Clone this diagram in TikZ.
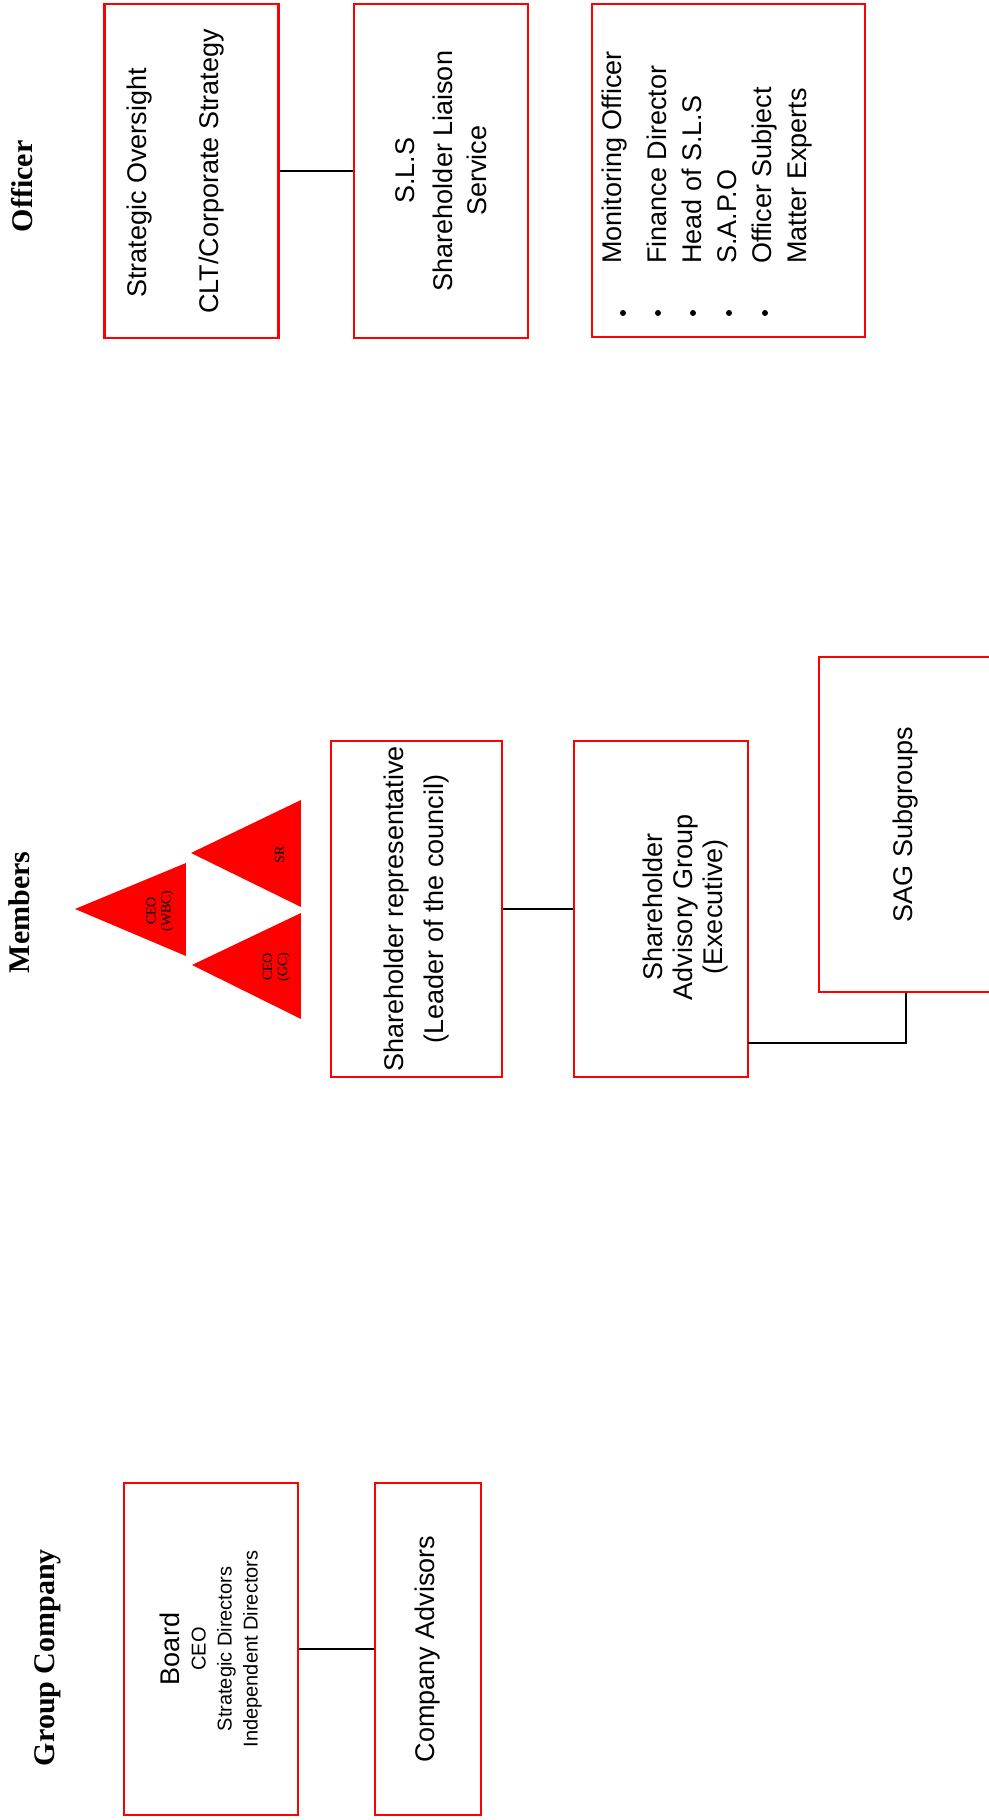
\documentclass[tikz,border=0pt]{standalone}
\usepackage{fontspec}
\setmainfont{Liberation Serif}
\setsansfont{Liberation Sans}

\begin{document}
\begin{tikzpicture}[x=1pt,y=1pt,
  box/.style={draw=red,line width=2.2pt,minimum width=334pt,minimum height=174pt,inner sep=0pt,align=center,font=\sffamily\fontsize{27}{34}\selectfont},
  boxtext/.style={inner sep=0pt,align=center,font=\sffamily\fontsize{27}{34}\selectfont},
  head/.style={inner sep=0pt,anchor=base,font=\bfseries\fontsize{30}{36}\selectfont},
  tri/.style={inner sep=0pt,align=center,font=\fontsize{14}{15}\selectfont},
  link/.style={line width=2pt}]

\begin{scope}[rotate=90,transform shape]
\useasboundingbox (0,0) rectangle (1820,988);

% headings
\node[head] (hgroup) at (162.5,933.5) {Group Company};
\node[head] (hmembers) at (907.5,958.5) {Members};
\node[head] (hofficer) at (1633.5,955) {Officer};

% group company
\node[box,minimum width=332pt,font=\sffamily\fontsize{20}{26}\selectfont] (board) at (171,777) {{\fontsize{27}{26}\selectfont Board}\\CEO\\Strategic Directors\\Independent Directors};
\node[box,minimum width=332pt,minimum height=106pt] (advisors) at (171,560) {Company Advisors};
\draw[link] (board.south) -- (advisors.north);

% members
\coordinate (wbc1) at (864,802);
\coordinate (wbc2) at (957,802);
\coordinate (wbc3) at (911,913);
\coordinate (gc1) at (801,687);
\coordinate (gc2) at (907,687);
\coordinate (gc3) at (855,796);
\coordinate (sr1) at (913,687);
\coordinate (sr2) at (1020,687);
\coordinate (sr3) at (967,797);
\fill[red] (wbc1) -- (wbc2) -- (wbc3) -- cycle;
\fill[red] (gc1) -- (gc2) -- (gc3) -- cycle;
\fill[red] (sr1) -- (sr2) -- (sr3) -- cycle;
\node[tri] (wbc) at (909,828) {CEO\\(WBC)};
\node[tri] (gc) at (853,711.5) {CEO\\(GC)};
\node[tri] (sr) at (965.5,708.5) {SR};

\node[box,minimum width=336pt,minimum height=171pt,font=\sffamily\fontsize{27}{40}\selectfont] (rep) at (911,571.5) {Shareholder representative\\(Leader of the council)};
\node[box,minimum width=336pt] (sag) at (911,327) {};
\node[boxtext,font=\sffamily\fontsize{27}{30}\selectfont] (sagtext) at (913,302) {Shareholder\\Advisory Group\\(Executive)};
\node[box,minimum width=335pt] (subgroups) at (995.5,82) {SAG Subgroups};
\draw[link] (rep.south) -- (sag.north);
\coordinate (sagout) at (777,240);
\coordinate (bend) at (777,82);
\draw[link] (sagout) -- (bend) -- (subgroups.west);

% officer
\node[box] (oversight) at (1649,796.5) {};
\node[boxtext,anchor=base] (oversight1) at (1637,841) {Strategic Oversight};
\node[boxtext,anchor=base] (oversight2) at (1648.5,769) {CLT/Corporate Strategy};
\node[box] (sls) at (1649,547) {S.L.S\\[4pt]Shareholder Liaison\\Service};
\draw[link] (oversight.south) -- (sls.north);

\node[box,minimum width=333pt,minimum height=273pt] (duties) at (1649.5,259.5) {};
\node[boxtext,align=left,anchor=west,font=\sffamily\fontsize{27}{35}\selectfont] (dutylist) at (1556,281) {Monitoring Officer\\[10pt]Finance Director\\Head of S.L.S\\S.A.P.O\\Officer Subject\\Matter Experts};
\foreach \y in {365,330,295,259,223}
  \fill (1507,\y) circle (3pt);
\end{scope}

\end{tikzpicture}
\end{document}
